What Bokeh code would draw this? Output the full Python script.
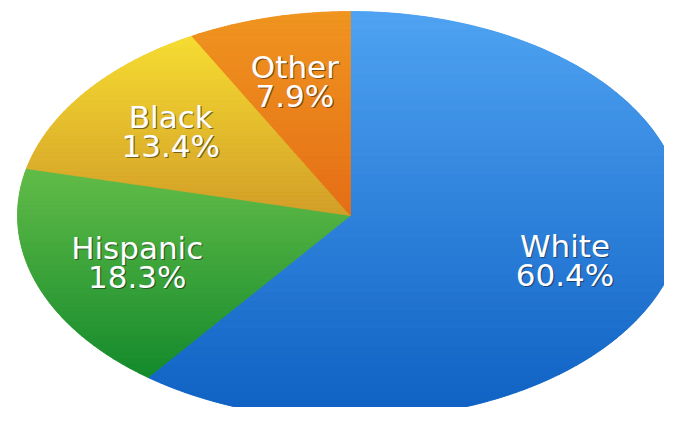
import numpy as np
from bokeh.plotting import figure
from bokeh.models import Range1d, ColumnDataSource
from bokeh.embed import file_html
from bokeh.resources import INLINE
from bokeh.core.properties import value

# ---- data ----
categories = ["White", "Hispanic", "Black", "Other"]
shares = [60.4, 18.3, 13.4, 7.9]
pct_labels = ["60.4%", "18.3%", "13.4%", "7.9%"]
top_colors = ["#4FA3F2", "#62BC48", "#F6DC32", "#F09520"]
bottom_colors = ["#0E60C2", "#148A2C", "#D29E28", "#E56E16"]

# ---- layout (pie is a unit circle in data space, stretched to an ellipse on screen) ----
W, H = 664, 407
cx_px, cy_px = 350, 215
ax_px, by_px = 333, 204
x0 = -cx_px / ax_px
x1 = x0 + W / ax_px
y1 = cy_px / by_px
y0 = y1 - H / by_px

p = figure(width=W, height=H, x_range=Range1d(x0, x1), y_range=Range1d(y0, y1),
           output_backend="svg", toolbar_location=None, min_border=0,
           x_axis_location=None, y_axis_location=None)
p.grid.visible = False
p.outline_line_color = None
p.background_fill_color = "white"
p.border_fill_color = "white"


def hex2rgb(h):
    h = h.lstrip("#")
    return np.array([int(h[i:i + 2], 16) for i in (0, 2, 4)], dtype=float)


def mix(c1, c2, t):
    c = hex2rgb(c1) * (1 - t) + hex2rgb(c2) * t
    return "#%02x%02x%02x" % tuple(int(round(v)) for v in c)


def clip_half(pts, inside, cval):
    out = []
    n = len(pts)
    for i in range(n):
        S = pts[i - 1]
        E = pts[i]
        s_in, e_in = inside(S), inside(E)
        if e_in:
            if not s_in:
                t = (cval - S[1]) / (E[1] - S[1])
                out.append((S[0] + t * (E[0] - S[0]), cval))
            out.append(E)
        elif s_in:
            t = (cval - S[1]) / (E[1] - S[1])
            out.append((S[0] + t * (E[0] - S[0]), cval))
    return out


def clip_band(pts, lo, hi):
    r = clip_half(pts, lambda q: q[1] >= lo, lo)
    if not r:
        return r
    return clip_half(r, lambda q: q[1] <= hi, hi)


total = sum(shares)
fracs = np.array(shares) / total
cum = np.concatenate([[0], np.cumsum(fracs)])

base_xs, base_ys, base_cols = [], [], []
band_xs, band_ys, band_cols = [], [], []
lab_x, lab_y = [], []
NB = 45
for i in range(len(shares)):
    a0 = np.pi / 2 - 2 * np.pi * cum[i]
    a1 = np.pi / 2 - 2 * np.pi * cum[i + 1]
    th = np.linspace(a0, a1, 200)
    px = np.concatenate([[0.0], np.cos(th)])
    py = np.concatenate([[0.0], np.sin(th)])
    base_xs.append(list(px)); base_ys.append(list(py))
    base_cols.append(mix(top_colors[i], bottom_colors[i], 0.5))
    pts = list(zip(px, py))
    ymin, ymax = py.min(), py.max()
    edges = np.linspace(ymin, ymax, NB + 1)
    for k in range(NB):
        lo, hi = edges[k], edges[k + 1]
        poly = clip_band(pts, lo, hi)
        if len(poly) < 3:
            continue
        t = (ymax - (lo + hi) / 2) / (ymax - ymin)
        band_xs.append([q[0] for q in poly])
        band_ys.append([q[1] for q in poly])
        band_cols.append(mix(top_colors[i], bottom_colors[i], t))
    mid = (a0 + a1) / 2
    lab_x.append(0.68 * np.cos(mid))
    lab_y.append(0.68 * np.sin(mid))

p.patches(base_xs, base_ys, fill_color=base_cols, line_color=None)
p.patches(band_xs, band_ys, fill_color=band_cols, line_color=band_cols, line_width=0.8)

dy = 14.5 / by_px
src = ColumnDataSource(dict(
    x=lab_x + lab_x,
    y=[v + dy for v in lab_y] + [v - dy for v in lab_y],
    t=categories + pct_labels,
))
common = dict(text_font=value("DejaVu Sans"), text_font_size="31px",
              text_align="center", text_baseline="middle")
p.text("x", "y", text="t", source=src, text_color="#1a1a1a", text_alpha=0.55,
       x_offset=1.2, y_offset=1.8, **common)
p.text("x", "y", text="t", source=src, text_color="white", **common)

open("out.html", "w").write(file_html(p, INLINE))
